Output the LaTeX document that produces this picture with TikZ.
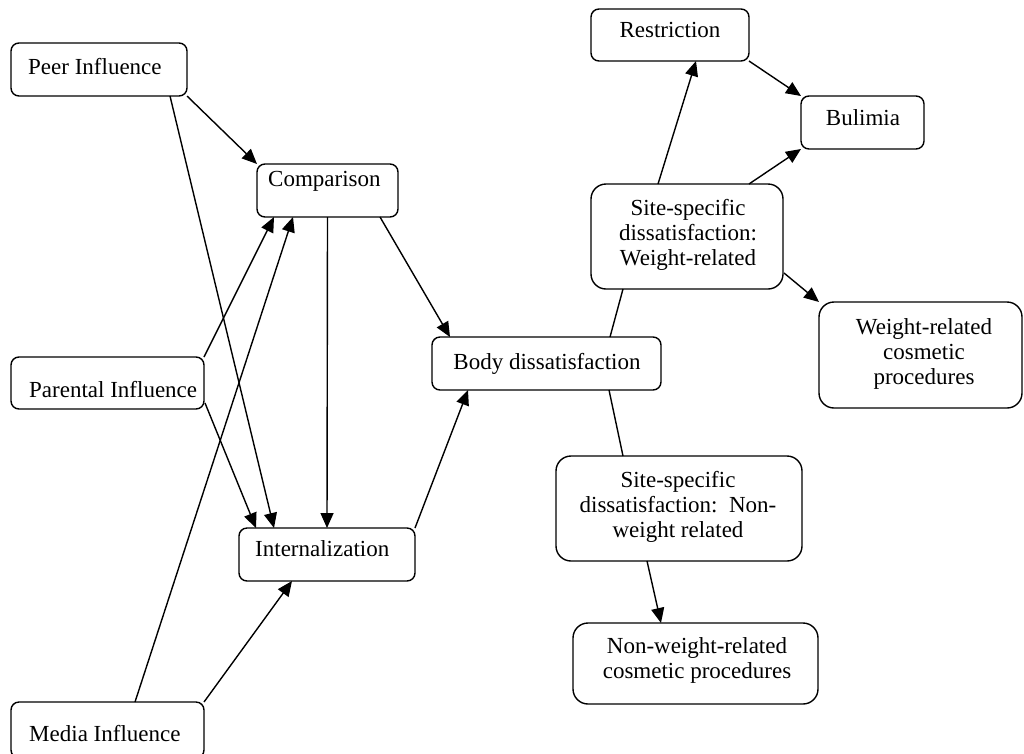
\documentclass[tikz,border=0pt]{standalone}
\usepackage{fontspec}
\setmainfont{Liberation Serif}
\usetikzlibrary{arrows.meta,calc}
\begin{document}
\begin{tikzpicture}[x=1pt,y=-1pt,
  box/.style={draw,line width=1.4pt,rounded corners=8pt,inner sep=0pt,outer sep=0pt},
  bigbox/.style={box,rounded corners=15pt},
  txt/.style={inner sep=0pt,font=\fontsize{23}{25}\selectfont,align=center},
  arr/.style={line width=1.4pt,-{Triangle[length=15pt,width=13pt]}},
  ln/.style={line width=1.4pt}]
\useasboundingbox (0,0) rectangle (1024,753);
% boxes
\node[box,minimum width=176pt,minimum height=53pt] (peer) at (99,69.5) {};
\node[box,minimum width=141pt,minimum height=53pt] (comp) at (327.5,190.5) {};
\node[box,minimum width=193pt,minimum height=52pt] (par) at (107.5,383) {};
\node[box,minimum width=193pt,minimum height=56pt] (media) at (107.5,730) {};
\node[box,minimum width=176pt,minimum height=53pt] (intern) at (327,554.5) {};
\node[box,minimum width=229pt,minimum height=53pt] (body) at (546.5,363.5) {};
\node[box,minimum width=158pt,minimum height=52pt] (restr) at (670,35) {};
\node[box,minimum width=123pt,minimum height=53pt] (bul) at (862.5,122.5) {};
\node[bigbox,minimum width=192pt,minimum height=105pt] (sw) at (687,236.5) {};
\node[bigbox,minimum width=203pt,minimum height=106pt] (wc) at (920.5,355) {};
\node[bigbox,minimum width=246pt,minimum height=105pt] (snw) at (679,508.5) {};
\node[bigbox,minimum width=245pt,minimum height=81pt] (nwc) at (695.5,663.5) {};
% texts
\node[txt,anchor=base west] (tpeer) at (28,74.5) {Peer Influence};
\node[txt,anchor=base west] (tcomp) at (268,186.5) {Comparison};
\node[txt,anchor=base west] (tpar) at (29,397.5) {Parental Influence};
\node[txt,anchor=base west] (tmedia) at (29,741.5) {Media Influence};
\node[txt,anchor=base west] (tintern) at (255,556.5) {Internalization};
\node[txt,anchor=base] (tbody) at (547,369.5) {Body dissatisfaction};
\node[txt,anchor=base] (trestr) at (670,37.5) {Restriction};
\node[txt,anchor=base] (tbul) at (863,125.5) {Bulimia};
\node[txt] (tsw) at (688,235) {Site-specific\\dissatisfaction:\\Weight-related};
\node[txt] (twc) at (924,354) {Weight-related\\cosmetic\\procedures};
\node[txt] (tsnw) at (678,507) {Site-specific\\dissatisfaction:\ \ Non-\\weight related};
\node[txt] (tnwc) at (697,660) {Non-weight-related\\cosmetic procedures};
% connectors
\draw[arr] (peer.south east) -- (comp.north west);
\draw[arr] ($(peer.south east)+(-17,0)$) -- ($(intern.north west)+(35,0)$);
\draw[arr] ($(par.south east)+(1,-6)$) -- ($(intern.north west)+(17,0)$);
\draw[arr] (par.north east) -- ($(comp.south west)+(17,0)$);
\draw[arr] ($(media.north west)+(124,0)$) -- ($(comp.south west)+(36,0)$);
\draw[arr] (media.north east) -- ($(intern.south west)+(53,0)$);
\draw[arr] (comp.south) -- (intern.north);
\draw[arr] ($(comp.south east)+(-18,0)$) -- ($(body.north west)+(18,0)$);
\draw[arr] (intern.north east) -- ($(body.south west)+(36,0)$);
\draw[ln] ($(body.north west)+(178,0)$) -- ($(sw.south west)+(32,0)$);
\draw[ln] ($(body.south west)+(177,0)$) -- ($(snw.north west)+(67,0)$);
\draw[arr] ($(sw.north west)+(67,0)$) -- ($(restr.south west)+(105,0)$);
\draw[arr] (restr.south east) -- (bul.north west);
\draw[arr] ($(sw.north west)+(158,0)$) -- (bul.south west);
\draw[arr] ($(sw.south east)+(1,-16)$) -- (wc.north west);
\draw[arr] ($(snw.south west)+(91,0)$) -- ($(nwc.north west)+(88,0)$);
\end{tikzpicture}
\end{document}
